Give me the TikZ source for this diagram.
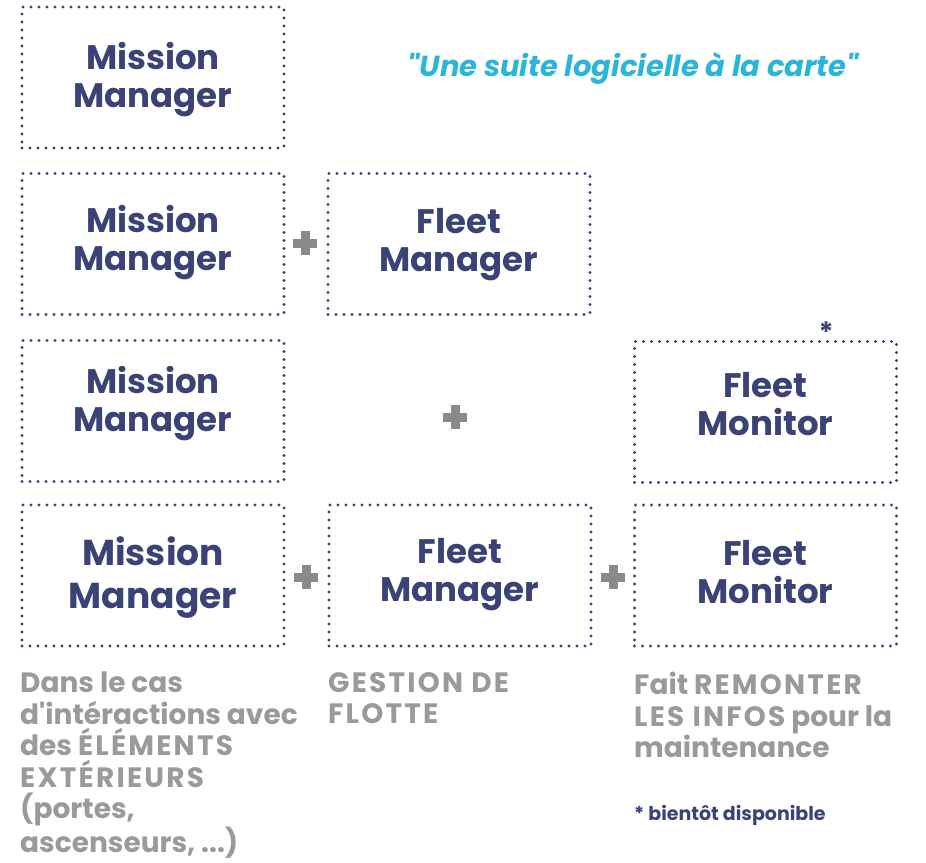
\documentclass[tikz,border=0pt]{standalone}
\usepackage{fontspec}
\setmainfont{Poppins}[Ligatures=TeXOff]
\newfontfamily\wideface{Poppins}[LetterSpace=8,Ligatures=TeXOff]
\newcommand{\wc}[1]{{\wideface #1}}
\definecolor{navy}{HTML}{3A4276}
\definecolor{txtgray}{HTML}{9A9A9A}
\definecolor{plusgray}{HTML}{8A8A8A}
\definecolor{cyanT}{HTML}{2BB5D8}
\begin{document}
\begin{tikzpicture}[x=1pt,y=-1pt,
  box/.style={draw=navy, line width=3.2pt, line cap=round, dash pattern=on 0pt off 8pt,
    minimum width=262pt, minimum height=141pt, inner sep=0pt},
  label/.style={align=center, text=navy, inner sep=0pt, font=\bfseries\fontsize{34}{38}\selectfont},
  biglabel/.style={label, font=\bfseries\fontsize{36}{43}\selectfont},
  desc/.style={anchor=north west, align=left, text=txtgray, inner sep=0pt,
    font=\bfseries\fontsize{28}{31.5}\selectfont},
  plussign/.style={fill=plusgray}]
\useasboundingbox (0,0) rectangle (926,862);
% title
\node (title) [text=cyanT, font=\bfseries\itshape\fontsize{29}{32}\selectfont] at (633,68) {"Une suite logicielle à la carte"};
% row 1
\node (mm1) [box] at (153,77.5) {};
\node (mm1t) [label] at (153,80) {Mission\\Manager};
% row 2
\node (mm2) [box] at (153,244) {};
\node (mm2t) [label] at (153,243) {Mission\\Manager};
\node (fm2) [box] at (459,244) {};
\node (fm2t) [label] at (459,245) {Fleet\\Manager};
% row 3
\node (mm3) [box] at (153,411) {};
\node (mm3t) [label] at (153,404) {Mission\\Manager};
\node (fmo3) [box] at (765.5,412) {};
\node (fmo3t) [label] at (765.5,404) {Fleet\\Monitor};
\node (star) [text=navy, font=\bfseries\fontsize{28}{28}\selectfont, inner sep=0pt] at (826,332) {*};
% row 4
\node (mm4) [box] at (153,575.5) {};
\node (mm4t) [biglabel] at (153,577.5) {Mission\\Manager};
\node (fm4) [box] at (460,575.5) {};
\node (fm4t) [label] at (460,575) {Fleet\\Manager};
\node (fmo4) [box] at (765.5,575.5) {};
\node (fmo4t) [label] at (765.5,572.5) {Fleet\\Monitor};
% plus signs
\foreach \cx/\cy in {305/243, 455/417, 306/577, 613/577}{
  \fill[plussign] (\cx-12,\cy-4.5) rectangle (\cx+12,\cy+4.5);
  \fill[plussign] (\cx-4.5,\cy-12) rectangle (\cx+4.5,\cy+12);
}
% descriptions
\node (d1) [desc] at (20,672) {Dans le cas\\d'intéractions avec\\des \wc{ÉLÉMENTS}\\\wc{EXTÉRIEURS}\\(portes,\\ascenseurs, ...)};
\node (d2) [desc] at (328,672) {\wc{GESTION DE}\\\wc{FLOTTE}};
\node (d3) [desc] at (634,672) {Fait \wc{REMONTER}\\\wc{LES INFOS} pour la\\maintenance};
\node (note) [anchor=west, text=navy, inner sep=0pt, font=\bfseries\fontsize{19}{22}\selectfont] at (634,815) {* bientôt disponible};
\end{tikzpicture}
\end{document}
